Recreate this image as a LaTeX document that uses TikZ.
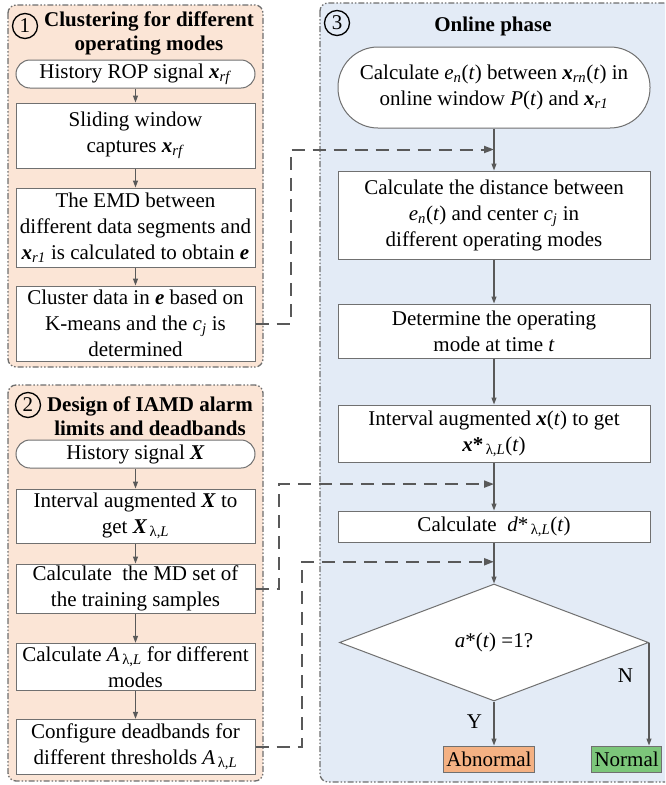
\documentclass[tikz,border=0pt]{standalone}
\usepackage{fontspec}
\setmainfont{Liberation Serif}
\usetikzlibrary{arrows.meta, positioning, calc, shapes.geometric}
\definecolor{PeachFill}{HTML}{FBE5D6}
\definecolor{BlueFill}{HTML}{E3EBF6}
\definecolor{LineGray}{HTML}{595959}
\definecolor{PanelGray}{HTML}{6E6E6E}
\definecolor{BoxGray}{HTML}{707070}
\definecolor{AbnOrange}{HTML}{F4B183}
\definecolor{NormGreen}{HTML}{7CC67A}
\newcommand{\xvec}[1]{\textbf{\textit{x}}\textsubscript{\textit{#1}}}
\newcommand{\lamL}{\textsubscript{\,λ,\textit{L}}}
\tikzset{
  panel/.style={draw=PanelGray, line width=1.3pt, rounded corners=8pt, dash pattern=on 6pt off 2pt on 1.5pt off 2pt on 1.5pt off 2pt},
  stepbox/.style={draw=BoxGray, line width=1pt, fill=white, align=center, inner sep=2pt, font=\fontsize{21}{26}\selectfont},
  leftbox/.style={stepbox, minimum width=239pt},
  rightbox/.style={stepbox, minimum width=312pt},
  startbox/.style={draw=BoxGray, line width=1pt, fill=white, align=center, inner sep=2pt, font=\fontsize{21}{26}\selectfont},
  decision/.style={diamond, draw=BoxGray, line width=1pt, fill=white, aspect=2.64, inner sep=0pt, font=\fontsize{21}{26}\selectfont},
  endbox/.style={draw=BoxGray, line width=1pt, inner sep=3pt, minimum height=26pt, font=\fontsize{21}{26}\selectfont},
  titletext/.style={align=center, font=\fontsize{21}{24}\selectfont\bfseries},
  numcircle/.style={circle, draw=black, line width=1.3pt, inner sep=0pt, minimum size=25pt, font=\fontsize{21}{24}\selectfont},
  arrow/.style={-{Triangle[length=7pt, width=5pt]}, line width=1.1pt, draw=LineGray},
  dasharrow/.style={-{Triangle[length=10pt, width=7pt]}, line width=2pt, draw=LineGray, dash pattern=on 13pt off 8pt}
}

\begin{document}
\begin{tikzpicture}[x=1pt, y=-1pt]
\useasboundingbox (0,0) rectangle (665,785);
\clip (0,0) rectangle (665,785);

% panels
\draw[panel, fill=PeachFill] (8,5) rectangle (263,367);
\draw[panel, fill=PeachFill] (8,385) rectangle (263,781);
\draw[panel, fill=BlueFill] (320,3) rectangle (690,782);

% panel 1: clustering
\node[numcircle] (num1) at (25,26) {1};
\node[titletext] (title1) at (149,33.5) {Clustering for different\\operating modes};
\node[startbox, minimum width=239pt, minimum height=28pt, rounded corners=14pt] (hist1) at (135.5,74) {History ROP signal \xvec{rf}};
\node[leftbox, minimum height=65pt, below=14pt of hist1] (slide) {Sliding window\\captures \xvec{rf}};
\node[leftbox, minimum height=79pt, below=19pt of slide] (emd) {The EMD between\\different data segments and\\\xvec{r1} is calculated to obtain \textbf{\textit{e}}};
\node[leftbox, minimum height=75pt, below=18pt of emd] (clus) {Cluster data in \textbf{\textit{e}} based on\\K-means and the \textit{c}\textsubscript{\textit{j}} is\\determined};

% panel 2: alarm limits
\node[numcircle] (num2) at (28,405) {2};
\node[titletext] (title2) at (150,416) {Design of IAMD alarm\\limits and deadbands};
\node[startbox, minimum width=239pt, minimum height=28pt, rounded corners=14pt] (hist2) at (135.5,454) {History signal \textbf{\textit{X}}};
\node[leftbox, minimum height=54pt, below=20pt of hist2] (aug) {Interval augmented \textbf{\textit{X}} to\\get \textbf{\textit{X}}\lamL};
\node[leftbox, minimum height=47pt, below=20pt of aug] (md) {Calculate\ \ the MD set of\\the training samples};
\node[leftbox, minimum height=47pt, below=29pt of md] (amode) {Calculate \textit{A}\lamL{} for different\\modes};
\node[leftbox, minimum height=55pt, below=28pt of amode] (conf) {Configure deadbands for\\different thresholds \textit{A}\lamL};

% panel 3: online phase
\node[numcircle] (num3) at (337,23) {3};
\node[titletext] (title3) at (493,26) {Online phase};
\node[startbox, minimum width=312pt, minimum height=81pt, rounded corners=40pt] (online) at (494,87.5) {Calculate \textit{e}\textsubscript{\textit{n}}(\textit{t}) between \xvec{rn}(\textit{t}) in\\online window \textit{P}(\textit{t}) and \xvec{r1}};
\node[rightbox, minimum height=88pt, below=42pt of online] (dist) {Calculate the distance between\\\textit{e}\textsubscript{\textit{n}}(\textit{t}) and center \textit{c}\textsubscript{\textit{j}} in\\different operating modes};
\node[rightbox, minimum height=54pt, below=44pt of dist] (mode) {Determine the operating\\mode at time \textit{t}};
\node[rightbox, minimum height=57pt, below=46pt of mode] (augx) {Interval augmented \textbf{\textit{x}}(\textit{t}) to get\\\textbf{\textit{x}*}\lamL(\textit{t})};
\node[rightbox, minimum height=31pt, below=48pt of augx] (calcd) {Calculate\ \ \textit{d}*\lamL(\textit{t})};
\node[decision, minimum width=309pt, minimum height=117pt, below=41pt of calcd] (dec) {\textit{a}*(\textit{t}) =1?};
\node[endbox, fill=AbnOrange, below=44pt of dec, xshift=-5pt] (abn) {Abnormal};
\node[endbox, fill=NormGreen, right=56pt of abn] (norm) {Normal};

% joints of the dashed links
\coordinate (j1) at ($(online.south)!0.5!(dist.north)$);
\coordinate (j2) at ($(augx.south)!0.45!(calcd.north)$);
\coordinate (j3) at ($(calcd.south)!0.47!(dec.north)$);

% flow arrows
\draw[arrow] (hist1) -- (slide);
\draw[arrow] (slide) -- (emd);
\draw[arrow] (emd) -- (clus);
\draw[arrow] (hist2) -- (aug);
\draw[arrow] (aug) -- (md);
\draw[arrow] (md) -- (amode);
\draw[arrow] (amode) -- (conf);
\draw[arrow] (online) -- (dist);
\draw[arrow] (dist) -- (mode);
\draw[arrow] (mode) -- (augx);
\draw[arrow] (augx) -- (calcd);
\draw[arrow] (calcd) -- (dec);
\draw[arrow] (dec.south) -- node[left=8pt, pos=0.45, font=\fontsize{21}{24}\selectfont] (ylab) {Y} (dec.south |- abn.north);
\draw[arrow] (dec.east) -- node[left=12pt, pos=0.32, font=\fontsize{21}{24}\selectfont] (nlab) {N} (dec.east |- norm.north);

% dashed links
\draw[dasharrow] (clus.east) -- ++(35pt,0) |- (j1);
\draw[dasharrow] (md.east) -- ++(23pt,0) |- (j2);
\draw[dasharrow] (conf.east) -- ++(46pt,0) |- (j3);
\end{tikzpicture}
\end{document}
